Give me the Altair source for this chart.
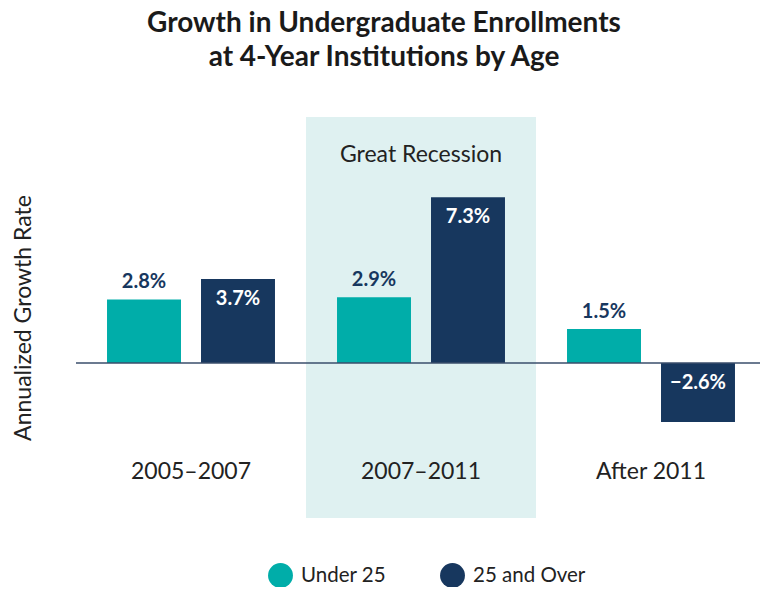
import altair as alt
import pandas as pd

periods = ["2005–2007", "2007–2011", "After 2011"]
groups = ["Under 25", "25 and Over"]
under25 = [2.8, 2.9, 1.5]
over25 = [3.7, 7.3, -2.6]
shade_period = "2007–2011"
shade_label = "Great Recession"
y_min, y_max = -6.83, 10.84

TEAL = "#00ADA9"
NAVY = "#17375E"
BAND = "#DFF1F1"
FONT = "Lato"

rows = []
for p, u, o in zip(periods, under25, over25):
    rows.append({"period": p, "group": groups[0], "value": u})
    rows.append({"period": p, "group": groups[1], "value": o})
df = pd.DataFrame(rows)
shade_df = pd.DataFrame([{"period": shade_period, "lo": y_min, "hi": y_max, "label": shade_label}])

xs = alt.Scale(domain=periods, paddingInner=0, paddingOuter=0, range=[0, 690])
xo = alt.Scale(domain=groups, paddingInner=0.213, paddingOuter=0.33)
ys = alt.Scale(domain=[y_min, y_max], nice=False, zero=False)

x_enc = alt.X("period:N", scale=xs, sort=periods,
              axis=alt.Axis(title=None, domain=False, ticks=False, labelAngle=0,
                            labelPadding=-58, labelFontSize=23, labelFont=FONT,
                            labelColor="#222222", labelBaseline="top"))
y_axis = alt.Axis(title="Annualized Growth Rate", domain=False, ticks=False, labels=False,
                  grid=False, titleFontSize=23, titleFont=FONT, titleFontWeight="normal",
                  titleColor="#222222", titlePadding=41)

shade = alt.Chart(shade_df).mark_rect(color=BAND).encode(
    x=x_enc,
    y=alt.Y("lo:Q", scale=ys, axis=y_axis),
    y2="hi:Q",
)
shade_text = alt.Chart(shade_df).mark_text(
    font=FONT, fontSize=23, color="#222222", baseline="middle", dy=38
).encode(
    x=alt.X("period:N", scale=xs, sort=periods),
    y=alt.Y("hi:Q", scale=ys),
    text="label:N",
)

bars = alt.Chart(df).mark_bar().encode(
    x=alt.X("period:N", scale=xs, sort=periods),
    xOffset=alt.XOffset("group:N", scale=xo, sort=groups),
    y=alt.Y("value:Q", scale=ys),
    color=alt.Color("group:N", scale=alt.Scale(domain=groups, range=[TEAL, NAVY]),
                    legend=alt.Legend(title=None, orient="none", direction="horizontal",
                                      legendX=192, legendY=446, symbolType="circle",
                                      symbolSize=620, symbolStrokeWidth=0,
                                      labelFontSize=20.5, labelFont=FONT, labelColor="#222222",
                                      labelOffset=8, columnPadding=53)),
)

zero = alt.Chart(pd.DataFrame({"z": [0]})).mark_rule(color="#3A4E6B", strokeWidth=1.5).encode(
    y=alt.Y("z:Q", scale=ys)
)

base_lbl = alt.Chart(df).transform_calculate(
    txt="format(datum.value, '.1f') + '%'",
    ypos="max(datum.value, 0)",
)
lbl_under = base_lbl.transform_filter(alt.datum.group == groups[0]).mark_text(
    font=FONT, fontSize=20, fontWeight="bold", color=NAVY, baseline="bottom", dy=-7
).encode(
    x=alt.X("period:N", scale=xs, sort=periods),
    xOffset=alt.XOffset("group:N", scale=xo, sort=groups),
    y=alt.Y("ypos:Q", scale=ys),
    text="txt:N",
)
lbl_over = base_lbl.transform_filter(alt.datum.group == groups[1]).mark_text(
    font=FONT, fontSize=20, fontWeight="bold", color="white", baseline="top", dy=10
).encode(
    x=alt.X("period:N", scale=xs, sort=periods),
    xOffset=alt.XOffset("group:N", scale=xo, sort=groups),
    y=alt.Y("ypos:Q", scale=ys),
    text="txt:N",
)

chart = alt.layer(shade, shade_text, bars, zero, lbl_under, lbl_over).properties(
    width=684, height=401,
    title=alt.Title(["Growth in Undergraduate Enrollments", "at 4-Year Institutions by Age"],
                    fontSize=28, fontWeight="bold", font=FONT, color="#1a1a1a",
                    lineHeight=34, dx=-34, offset=45, anchor="middle"),
    autosize=alt.AutoSizeParams(type="none"),
    padding={"left": 68, "top": 109, "right": 0, "bottom": 69},
).configure_view(strokeWidth=0)

chart.save("out.html", embed_options={"renderer": "svg", "actions": False})
